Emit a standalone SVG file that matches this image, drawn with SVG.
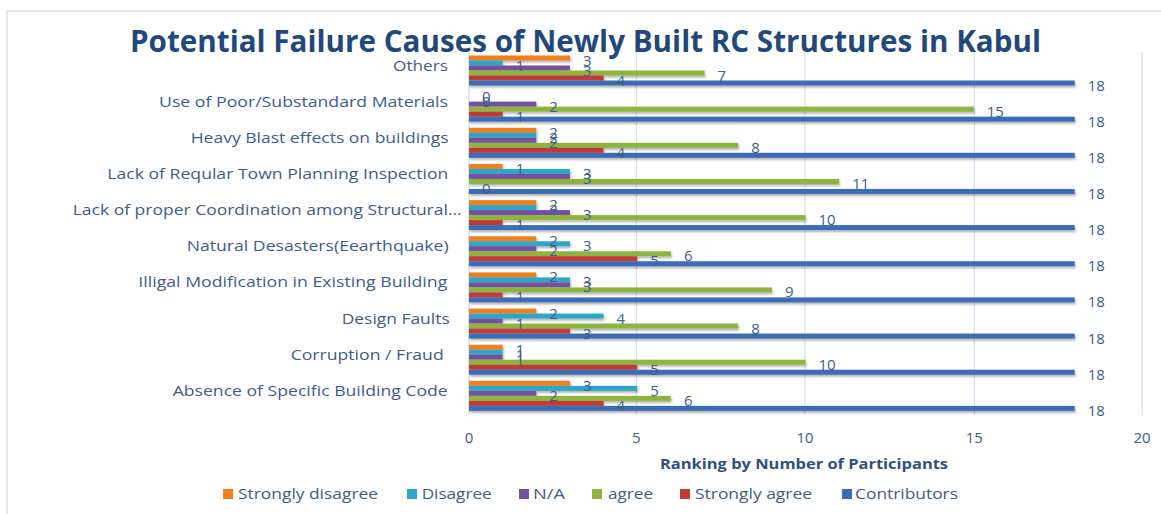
<svg xmlns="http://www.w3.org/2000/svg" width="1161" height="514" viewBox="0 0 1161 514">
<style>
.title{font-family:"Open Sans","Liberation Sans",sans-serif;font-weight:bold;font-size:30px;fill:#1F497D}
.cat{font-family:"Open Sans","Liberation Sans",sans-serif;font-size:14px;fill:#3E5C8C}
.val{font-family:"Open Sans","Liberation Sans",sans-serif;font-size:15px;fill:#3E5C8C}
.tick{font-family:"Open Sans","Liberation Sans",sans-serif;font-size:15px;fill:#3E5C8C;text-anchor:middle}
.axt{font-family:"Open Sans","Liberation Sans",sans-serif;font-size:14px;font-weight:bold;fill:#2F5080}
.leg{font-family:"Open Sans","Liberation Sans",sans-serif;font-size:14px;fill:#3E5C8C}
.grid{stroke:#C9DAEE;stroke-width:1}
.sd{fill:#F0801F}.di{fill:#2FA6C7}.na{fill:#7450A0}.ag{fill:#8DB53D}.sa{fill:#C03A34}.co{fill:#3A6CB5}
</style>
<defs>
<filter id="sh" x="-5%" y="-30%" width="110%" height="160%">
<feDropShadow dx="1" dy="2" stdDeviation="0.8" flood-color="#000" flood-opacity="0.3"/>
</filter>
</defs>
<rect width="1161" height="514" fill="#FFFFFF"/>
<path d="M7,514 V11 H1161" fill="none" stroke="#D5E1F0" stroke-width="1.5"/>
<text class="title" x="130" y="52" textLength="911" lengthAdjust="spacingAndGlyphs">Potential Failure Causes of Newly Built RC Structures in Kabul</text>

<g id="gridlines">
<line class="grid" x1="636.3" y1="52" x2="636.3" y2="415"/>
<line class="grid" x1="805" y1="52" x2="805" y2="415"/>
<line class="grid" x1="974.3" y1="52" x2="974.3" y2="415"/>
<line class="grid" x1="1142" y1="52" x2="1142" y2="415"/>
<line x1="469" y1="52" x2="469" y2="415" stroke="#C3CEDD" stroke-width="1"/>
</g>

<g id="axis-labels">
<text class="tick" x="469" y="443">0</text>
<text class="tick" x="636.3" y="443">5</text>
<text class="tick" x="805" y="443">10</text>
<text class="tick" x="974.3" y="443">15</text>
<text class="tick" x="1142" y="443">20</text>
<text class="axt" x="660" y="469" textLength="288" lengthAdjust="spacingAndGlyphs">Ranking  by Number of Participants</text>
</g>

<g id="cat-others">
<text class="cat" x="393" y="70.5" textLength="55" lengthAdjust="spacingAndGlyphs">Others</text>
<g filter="url(#sh)">
<rect class="sd" x="469" y="55.5" width="100.95" height="5"/>
<rect class="di" x="469" y="60.5" width="33.65" height="5"/>
<rect class="na" x="469" y="65.5" width="100.95" height="5"/>
<rect class="ag" x="469" y="70.5" width="235.55" height="5"/>
<rect class="sa" x="469" y="75.5" width="134.6" height="5"/>
<rect class="co" x="469" y="80.5" width="605.7" height="5"/>
</g>
<text class="val" x="583" y="65.5">3</text>
<text class="val" x="515.7" y="70.5">1</text>
<text class="val" x="583" y="75.5">3</text>
<text class="val" x="717.6" y="80.5">7</text>
<text class="val" x="616.6" y="85.5">4</text>
<text class="val" x="1087.7" y="90.5">18</text>
</g>

<g id="cat-materials">
<text class="cat" x="159" y="106.7" textLength="289" lengthAdjust="spacingAndGlyphs">Use of Poor/Substandard Materials</text>
<g filter="url(#sh)">
<rect class="na" x="469" y="101.65" width="67.3" height="5"/>
<rect class="ag" x="469" y="106.65" width="504.75" height="5"/>
<rect class="sa" x="469" y="111.65" width="33.65" height="5"/>
<rect class="co" x="469" y="116.65" width="605.7" height="5"/>
</g>
<text class="val" x="482" y="101.65">0</text>
<text class="val" x="482" y="106.65">0</text>
<text class="val" x="549.3" y="111.65">2</text>
<text class="val" x="986.8" y="116.65">15</text>
<text class="val" x="515.7" y="121.65">1</text>
<text class="val" x="1087.7" y="126.65">18</text>
</g>

<g id="cat-blast">
<text class="cat" x="190.7" y="142.8" textLength="258" lengthAdjust="spacingAndGlyphs">Heavy Blast effects on buildings</text>
<g filter="url(#sh)">
<rect class="sd" x="469" y="127.8" width="67.3" height="5"/>
<rect class="di" x="469" y="132.8" width="67.3" height="5"/>
<rect class="na" x="469" y="137.8" width="67.3" height="5"/>
<rect class="ag" x="469" y="142.8" width="269.2" height="5"/>
<rect class="sa" x="469" y="147.8" width="134.6" height="5"/>
<rect class="co" x="469" y="152.8" width="605.7" height="5"/>
</g>
<text class="val" x="549.3" y="137.8">2</text>
<text class="val" x="549.3" y="142.8">2</text>
<text class="val" x="549.3" y="147.8">2</text>
<text class="val" x="751.2" y="152.8">8</text>
<text class="val" x="616.6" y="157.8">4</text>
<text class="val" x="1087.7" y="162.8">18</text>
</g>

<g id="cat-inspection">
<text class="cat" x="107.3" y="178.9" textLength="341" lengthAdjust="spacingAndGlyphs">Lack of Reqular Town Planning Inspection</text>
<g filter="url(#sh)">
<rect class="sd" x="469" y="163.95" width="33.65" height="5"/>
<rect class="di" x="469" y="168.95" width="100.95" height="5"/>
<rect class="na" x="469" y="173.95" width="100.95" height="5"/>
<rect class="ag" x="469" y="178.95" width="370.15" height="5"/>
<rect class="co" x="469" y="188.95" width="605.7" height="5"/>
</g>
<text class="val" x="515.7" y="173.95">1</text>
<text class="val" x="583" y="178.95">3</text>
<text class="val" x="583" y="183.95">3</text>
<text class="val" x="852.2" y="188.95">11</text>
<text class="val" x="482" y="193.95">0</text>
<text class="val" x="1087.7" y="198.95">18</text>
</g>

<g id="cat-coordination">
<text class="cat" x="72.7" y="215.1" textLength="389" lengthAdjust="spacingAndGlyphs">Lack of proper Coordination among Structural...</text>
<g filter="url(#sh)">
<rect class="sd" x="469" y="200.1" width="67.3" height="5"/>
<rect class="di" x="469" y="205.1" width="67.3" height="5"/>
<rect class="na" x="469" y="210.1" width="100.95" height="5"/>
<rect class="ag" x="469" y="215.1" width="336.5" height="5"/>
<rect class="sa" x="469" y="220.1" width="33.65" height="5"/>
<rect class="co" x="469" y="225.1" width="605.7" height="5"/>
</g>
<text class="val" x="549.3" y="210.1">2</text>
<text class="val" x="549.3" y="215.1">2</text>
<text class="val" x="583" y="220.1">3</text>
<text class="val" x="818.5" y="225.1">10</text>
<text class="val" x="515.7" y="230.1">1</text>
<text class="val" x="1087.7" y="235.1">18</text>
</g>

<g id="cat-natural">
<text class="cat" x="186.7" y="251.3" textLength="262" lengthAdjust="spacingAndGlyphs">Natural Desasters(Eearthquake)</text>
<g filter="url(#sh)">
<rect class="sd" x="469" y="236.25" width="67.3" height="5"/>
<rect class="di" x="469" y="241.25" width="100.95" height="5"/>
<rect class="na" x="469" y="246.25" width="67.3" height="5"/>
<rect class="ag" x="469" y="251.25" width="201.9" height="5"/>
<rect class="sa" x="469" y="256.25" width="168.25" height="5"/>
<rect class="co" x="469" y="261.25" width="605.7" height="5"/>
</g>
<text class="val" x="549.3" y="246.25">2</text>
<text class="val" x="583" y="251.25">3</text>
<text class="val" x="549.3" y="256.25">2</text>
<text class="val" x="683.9" y="261.25">6</text>
<text class="val" x="650.3" y="266.25">5</text>
<text class="val" x="1087.7" y="271.25">18</text>
</g>

<g id="cat-modification">
<text class="cat" x="138.3" y="287.4" textLength="309" lengthAdjust="spacingAndGlyphs">Illigal Modification in Existing Building</text>
<g filter="url(#sh)">
<rect class="sd" x="469" y="272.4" width="67.3" height="5"/>
<rect class="di" x="469" y="277.4" width="100.95" height="5"/>
<rect class="na" x="469" y="282.4" width="100.95" height="5"/>
<rect class="ag" x="469" y="287.4" width="302.85" height="5"/>
<rect class="sa" x="469" y="292.4" width="33.65" height="5"/>
<rect class="co" x="469" y="297.4" width="605.7" height="5"/>
</g>
<text class="val" x="549.3" y="282.4">2</text>
<text class="val" x="583" y="287.4">3</text>
<text class="val" x="583" y="292.4">3</text>
<text class="val" x="784.9" y="297.4">9</text>
<text class="val" x="515.7" y="302.4">1</text>
<text class="val" x="1087.7" y="307.4">18</text>
</g>

<g id="cat-design">
<text class="cat" x="341.7" y="323.5" textLength="108" lengthAdjust="spacingAndGlyphs">Design Faults</text>
<g filter="url(#sh)">
<rect class="sd" x="469" y="308.55" width="67.3" height="5"/>
<rect class="di" x="469" y="313.55" width="134.6" height="5"/>
<rect class="na" x="469" y="318.55" width="33.65" height="5"/>
<rect class="ag" x="469" y="323.55" width="269.2" height="5"/>
<rect class="sa" x="469" y="328.55" width="100.95" height="5"/>
<rect class="co" x="469" y="333.55" width="605.7" height="5"/>
</g>
<text class="val" x="549.3" y="318.55">2</text>
<text class="val" x="616.6" y="323.55">4</text>
<text class="val" x="515.7" y="328.55">1</text>
<text class="val" x="751.2" y="333.55">8</text>
<text class="val" x="583" y="338.55">3</text>
<text class="val" x="1087.7" y="343.55">18</text>
</g>

<g id="cat-corruption">
<text class="cat" x="290.7" y="359.7" textLength="153" lengthAdjust="spacingAndGlyphs">Corruption / Fraud</text>
<g filter="url(#sh)">
<rect class="sd" x="469" y="344.7" width="33.65" height="5"/>
<rect class="di" x="469" y="349.7" width="33.65" height="5"/>
<rect class="na" x="469" y="354.7" width="33.65" height="5"/>
<rect class="ag" x="469" y="359.7" width="336.5" height="5"/>
<rect class="sa" x="469" y="364.7" width="168.25" height="5"/>
<rect class="co" x="469" y="369.7" width="605.7" height="5"/>
</g>
<text class="val" x="515.7" y="354.7">1</text>
<text class="val" x="515.7" y="359.7">1</text>
<text class="val" x="515.7" y="364.7">1</text>
<text class="val" x="818.5" y="369.7">10</text>
<text class="val" x="650.3" y="374.7">5</text>
<text class="val" x="1087.7" y="379.7">18</text>
</g>

<g id="cat-code">
<text class="cat" x="172.7" y="395.8" textLength="275" lengthAdjust="spacingAndGlyphs">Absence of Specific Building Code</text>
<g filter="url(#sh)">
<rect class="sd" x="469" y="380.85" width="100.95" height="5"/>
<rect class="di" x="469" y="385.85" width="168.25" height="5"/>
<rect class="na" x="469" y="390.85" width="67.3" height="5"/>
<rect class="ag" x="469" y="395.85" width="201.9" height="5"/>
<rect class="sa" x="469" y="400.85" width="134.6" height="5"/>
<rect class="co" x="469" y="405.85" width="605.7" height="5"/>
</g>
<text class="val" x="583" y="390.85">3</text>
<text class="val" x="650.3" y="395.85">5</text>
<text class="val" x="549.3" y="400.85">2</text>
<text class="val" x="683.9" y="405.85">6</text>
<text class="val" x="616.6" y="410.85">4</text>
<text class="val" x="1087.7" y="415.85">18</text>
</g>

<g id="legend">
<rect class="sd" x="223" y="489" width="10" height="10"/>
<text class="leg" x="238" y="498.5" textLength="140" lengthAdjust="spacingAndGlyphs">Strongly disagree</text>
<rect class="di" x="407" y="489" width="10" height="10"/>
<text class="leg" x="421.7" y="498.5" textLength="70" lengthAdjust="spacingAndGlyphs">Disagree</text>
<rect class="na" x="519" y="489" width="10" height="10"/>
<text class="leg" x="533" y="498.5" textLength="32" lengthAdjust="spacingAndGlyphs">N/A</text>
<rect class="ag" x="592" y="489" width="10" height="10"/>
<text class="leg" x="608" y="498.5" textLength="45" lengthAdjust="spacingAndGlyphs">agree</text>
<rect class="sa" x="680" y="489" width="10" height="10"/>
<text class="leg" x="695" y="498.5" textLength="117" lengthAdjust="spacingAndGlyphs">Strongly agree</text>
<rect class="co" x="842" y="489" width="10" height="10"/>
<text class="leg" x="855" y="498.5" textLength="103" lengthAdjust="spacingAndGlyphs">Contributors</text>
</g>
</svg>
